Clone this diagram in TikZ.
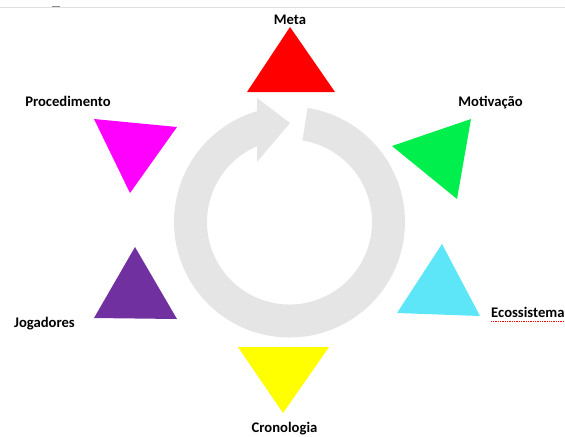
\documentclass[tikz,border=0pt]{standalone}
\usepackage{xcolor}
\usepackage{fontspec}
\setmainfont{Carlito}
\usepackage{tikz}
\usetikzlibrary{calc}
\definecolor{ringgray}{HTML}{E5E5E5}
\definecolor{metared}{HTML}{FF0000}
\definecolor{procmag}{HTML}{FF00FF}
\definecolor{motivgreen}{HTML}{00EF4C}
\definecolor{ecocyan}{HTML}{5DE6F8}
\definecolor{jogpurple}{HTML}{7030A0}
\definecolor{cronoyellow}{HTML}{FFFF00}
\newcommand{\trifill}[4]{
  \fill[#1] #2 -- #3 -- #4 -- cycle;
}

\begin{document}
\begin{tikzpicture}[x=0.03cm,y=-0.03cm,
  lbl/.style={font=\bfseries\fontsize{12.5}{15}\selectfont,inner sep=0pt,anchor=base}]
  \useasboundingbox (0,0) rectangle (565,436);
  \draw[black!12,line width=0.6pt] (0,7) -- (565,7);
  \draw[black!45,line width=0.6pt] (52,6.5) -- (60,6.5);
  % cycle arrow
  \coordinate (c) at (289.5,222);
  \fill[ringgray] ($(c)+(-81:115.5)$) arc[start angle=-81,end angle=253.7,radius=115.5]
    -- (257,98) -- (290,123) -- (257,162)
    -- ($(c)+(246.8:82.5)$) arc[start angle=246.8,end angle=-81,radius=82.5] -- cycle;
  % triangles
  \trifill{metared}{(290,27)}{(247,92)}{(335,92)}
  \trifill{procmag}{(94,119)}{(177,127)}{(130,193)}
  \trifill{motivgreen}{(392,146)}{(471,119)}{(457,199)}
  \trifill{ecocyan}{(442,244)}{(397,313)}{(480,316)}
  \trifill{jogpurple}{(135,247)}{(94,318)}{(177,319)}
  \trifill{cronoyellow}{(238,347)}{(329,347)}{(283,413)}
  % labels
  \node[lbl] (meta) at (290,24) {Meta};
  \node[lbl] (proc) at (68,106) {Procedimento};
  \node[lbl] (motiv) at (490.5,106) {Motivação};
  \node[lbl,anchor=base west] (eco) at (491,317) {Ecossistema};
  \node[lbl] (jog) at (44.5,327) {Jogadores};
  \node[lbl] (crono) at (284.5,432) {Cronologia};
  \draw[red,densely dotted,line width=0.5pt] ($(eco.base west)+(0,4)$) -- ($(eco.base east)+(0,4)$);
\end{tikzpicture}
\end{document}
